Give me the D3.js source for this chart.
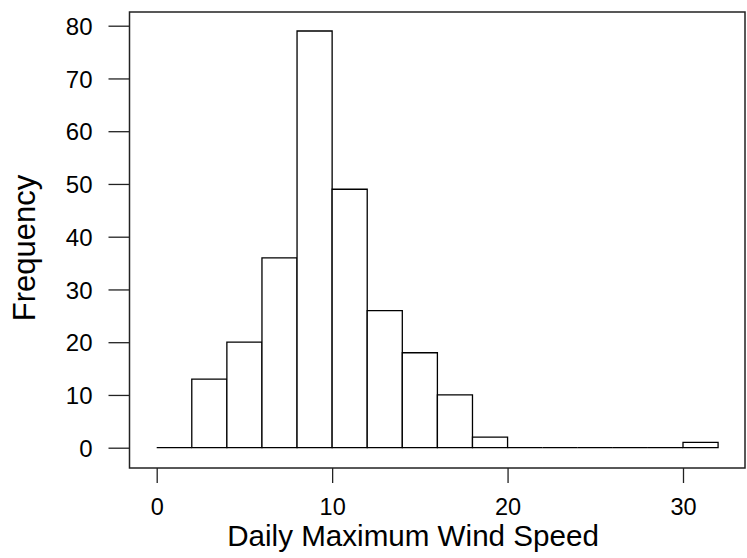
<!DOCTYPE html>
<html>
<head>
<meta charset="utf-8">
<script src="https://cdn.jsdelivr.net/npm/d3@7"></script>
<style>
  body { margin: 0; background: #fff; }
  text { font-family: "Liberation Sans", Arial, sans-serif; fill: #000; }
</style>
</head>
<body>
<div id="chart"></div>
<script>
// histogram bins (width 2) and counts
var binStarts = [0, 2, 4, 6, 8, 10, 12, 14, 16, 18, 20, 22, 24, 26, 28, 30]
var counts = [0, 13, 20, 36, 79, 49, 26, 18, 10, 2, 0, 0, 0, 0, 0, 1]
var binWidth = 2
var xTicks = [0, 10, 20, 30]
var yTicks = [0, 10, 20, 30, 40, 50, 60, 70, 80]

var width = 747, height = 558

var box = { left: 129.5, right: 745, top: 12, bottom: 468 }

var svg = d3.select("#chart").append("svg")
    .attr("width", width)
    .attr("height", height)

var x = d3.scaleLinear().domain([0, 30]).range([156.7, 683])
var y = d3.scaleLinear().domain([0, 80]).range([447.7, 25.7])

// bars as closed paths so that empty bins still show as a line
svg.selectAll(".bar")
  .data(binStarts)
  .enter().append("path")
    .attr("class", "bar")
    .attr("d", function(d, i) {
      var x0 = x(d), x1 = x(d + binWidth), y0 = y(0), y1 = y(counts[i]);
      return "M" + x0 + "," + y0 + "V" + y1 + "H" + x1 + "V" + y0 + "Z";
    })
    .style("fill", "#fff")
    .style("stroke", "#000")
    .style("stroke-width", 1.3)

// frame
svg.append("rect")
  .attr("x", box.left)
  .attr("y", box.top)
  .attr("width", box.right - box.left)
  .attr("height", box.bottom - box.top)
  .style("fill", "none")
  .style("stroke", "#222")
  .style("stroke-width", 1.5)

// y axis
var yAxis = svg.append("g")
  .attr("transform", "translate(" + box.left + ",0)")
  .call(d3.axisLeft(y).tickValues(yTicks).tickSize(21).tickPadding(16).tickSizeOuter(0))
yAxis.select(".domain").remove()
yAxis.selectAll("line").style("stroke", "#222").style("stroke-width", 1.3)
yAxis.selectAll("text").style("font-size", "24px").style("font-family", "Liberation Sans, Arial, sans-serif").attr("dy", "0.36em")

// x axis
var xAxis = svg.append("g")
  .attr("transform", "translate(0," + box.bottom + ")")
  .call(d3.axisBottom(x).tickValues(xTicks).tickSize(15).tickPadding(15).tickSizeOuter(0))
xAxis.select(".domain").remove()
xAxis.selectAll("line").style("stroke", "#222").style("stroke-width", 1.3)
xAxis.selectAll("text").style("font-size", "23.5px").style("font-family", "Liberation Sans, Arial, sans-serif")

// titles
svg.append("text")
  .attr("x", 413)
  .attr("y", 546)
  .style("text-anchor", "middle")
  .style("font-size", "29.6px")
  .text("Daily Maximum Wind Speed")

svg.append("text")
  .attr("transform", "translate(35,248) rotate(-90)")
  .style("text-anchor", "middle")
  .style("font-size", "31px")
  .text("Frequency")
</script>
</body>
</html>
